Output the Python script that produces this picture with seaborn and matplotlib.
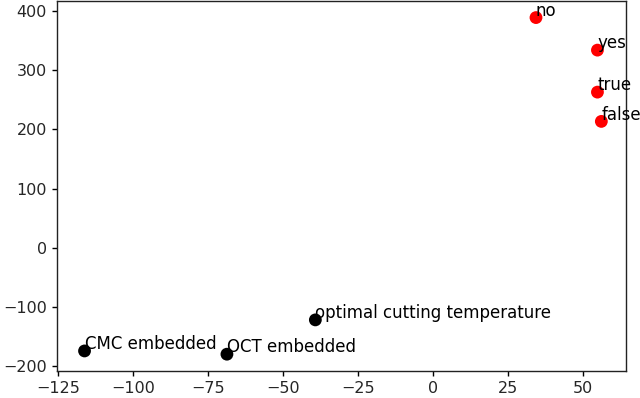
import pandas as pd
import seaborn as sns
import matplotlib
matplotlib.use("Agg")
import matplotlib.pyplot as plt

# Word embedding points (2D projection)
words = ["no", "yes", "true", "false",
         "optimal cutting temperature", "CMC embedded", "OCT embedded"]
x_vals = [34.3, 54.8, 54.8, 56.1, -39.3, -116.3, -68.8]
y_vals = [389, 334, 263, 213.5, -122, -174.5, -180]
groups = ["red", "red", "red", "red", "black", "black", "black"]

df = pd.DataFrame({"word": words, "x": x_vals, "y": y_vals, "group": groups})

sns.set_style("ticks")
plt.rcParams["font.family"] = ["DejaVu Sans"]

fig, ax = plt.subplots(figsize=(6.4, 3.98), dpi=100)
fig.subplots_adjust(left=0.089, right=0.978, top=0.997, bottom=0.068)

sns.scatterplot(data=df, x="x", y="y", hue="group",
                palette={"red": "#ff0000", "black": "#000000"},
                s=85, edgecolor="none", legend=False, ax=ax)

for _, row in df.iterrows():
    ax.text(row["x"], row["y"] + 3, row["word"], fontsize=12, color="black")

ax.set_xlim(-125.5, 64.3)
ax.set_ylim(-208.3, 416.7)
ax.set_xticks([-125, -100, -75, -50, -25, 0, 25, 50])
ax.set_yticks([-200, -100, 0, 100, 200, 300, 400])
ax.set_xlabel("")
ax.set_ylabel("")
ax.tick_params(labelsize=11.5, length=3.6, width=1, color="black")
for sp in ax.spines.values():
    sp.set_visible(True)
    sp.set_color("#222222")
    sp.set_linewidth(1)

plt.savefig("out.png", dpi=100)
